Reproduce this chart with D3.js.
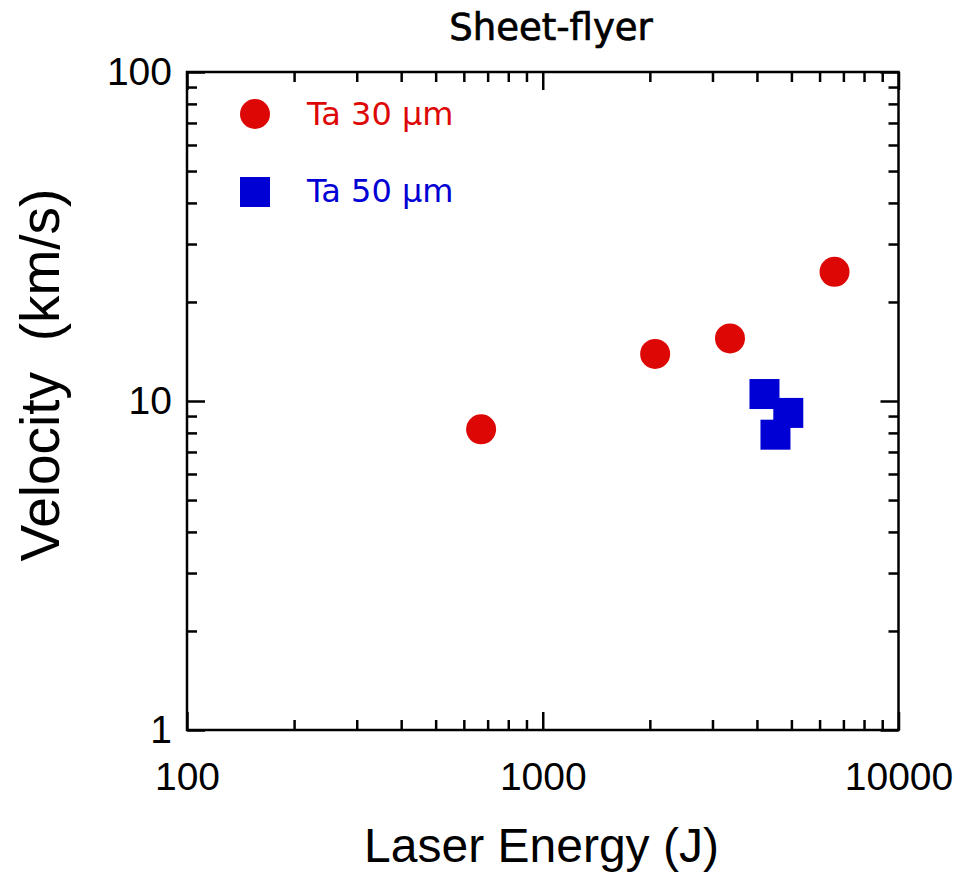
<!DOCTYPE html>
<html>
<head>
<meta charset="utf-8">
<script src="https://cdn.jsdelivr.net/npm/d3@7"></script>
<style>
  html, body { margin: 0; padding: 0; background: #fff; }
  svg { display: block; }
</style>
</head>
<body>
<div id="chart"></div>
<script>
// ---- data ----
const title = "Sheet-flyer";
const xLabel = "Laser Energy (J)";
const yLabel = "Velocity  (km/s)";
const seriesNames = ["Ta 30 \u03bcm", "Ta 50 \u03bcm"];
const energyTa30 = [671, 2070, 3360, 6610];
const velocityTa30 = [8.2, 13.9, 15.5, 24.7];
const energyTa50 = [4200, 4900, 4510];
const velocityTa50 = [10.5, 9.2, 7.9];
const xTicks = [100, 1000, 10000];
const yTicks = [1, 10, 100];

// ---- layout ----
const W = 965, H = 874;
const L = 187, R = 898.5, T = 72, B = 730;
const red = "#dd0806", blue = "#0000d4";

const svg = d3.select("#chart").append("svg").attr("width", W).attr("height", H);

const x = d3.scaleLog().domain([100, 10000]).range([L, R]);
const y = d3.scaleLog().domain([1, 100]).range([B, T]);

const minorX = x.ticks().filter(v => !xTicks.includes(v));
const minorY = y.ticks().filter(v => !yTicks.includes(v));

const axFont = "'Liberation Sans', Arial, sans-serif";

function styleAxis(g) {
  g.select(".domain").remove();
  g.selectAll("line").attr("stroke", "#000").attr("stroke-width", 2.5);
  g.selectAll("text").attr("font-family", axFont).attr("font-size", 39).attr("fill", "#000");
}

// bottom
svg.append("g").attr("transform", `translate(0,${B})`)
  .call(d3.axisBottom(x).tickValues(minorX).tickSize(-10).tickFormat(""))
  .call(styleAxis);
svg.append("g").attr("transform", `translate(0,${B})`)
  .call(d3.axisBottom(x).tickValues(xTicks).tickSize(-18).tickPadding(32).tickFormat(d3.format("d")))
  .call(styleAxis);
// top
svg.append("g").attr("transform", `translate(0,${T})`)
  .call(d3.axisTop(x).tickValues(minorX).tickSize(-10).tickFormat(""))
  .call(styleAxis);
svg.append("g").attr("transform", `translate(0,${T})`)
  .call(d3.axisTop(x).tickValues(xTicks).tickSize(-18).tickFormat(""))
  .call(styleAxis);
// left
svg.append("g").attr("transform", `translate(${L},0)`)
  .call(d3.axisLeft(y).tickValues(minorY).tickSize(-10).tickFormat(""))
  .call(styleAxis);
svg.append("g").attr("transform", `translate(${L},0)`)
  .call(d3.axisLeft(y).tickValues(yTicks).tickSize(-18).tickPadding(15).tickFormat(d3.format("d")))
  .call(styleAxis);
// right
svg.append("g").attr("transform", `translate(${R},0)`)
  .call(d3.axisRight(y).tickValues(minorY).tickSize(-10).tickFormat(""))
  .call(styleAxis);
svg.append("g").attr("transform", `translate(${R},0)`)
  .call(d3.axisRight(y).tickValues(yTicks).tickSize(-18).tickFormat(""))
  .call(styleAxis);

// frame
svg.append("rect").attr("x", L).attr("y", T).attr("width", R - L).attr("height", B - T)
  .attr("fill", "none").attr("stroke", "#000").attr("stroke-width", 2.5);

// data
const ta30 = energyTa30.map((e, i) => ({e, v: velocityTa30[i]}));
const ta50 = energyTa50.map((e, i) => ({e, v: velocityTa50[i]}));

svg.append("g").selectAll("circle").data(ta30).join("circle")
  .attr("cx", d => x(d.e)).attr("cy", d => y(d.v)).attr("r", 15).attr("fill", red);
svg.append("g").selectAll("rect").data(ta50).join("rect")
  .attr("x", d => x(d.e) - 15).attr("y", d => y(d.v) - 15)
  .attr("width", 30).attr("height", 30).attr("fill", blue);

// legend
const legFont = "'DejaVu Sans', sans-serif";
svg.append("circle").attr("cx", 255).attr("cy", 114).attr("r", 15).attr("fill", red);
svg.append("text").attr("x", 307).attr("y", 125).text(seriesNames[0])
  .attr("font-family", legFont).attr("font-size", 32).attr("fill", red);
svg.append("rect").attr("x", 240).attr("y", 177).attr("width", 30).attr("height", 30).attr("fill", blue);
svg.append("text").attr("x", 307).attr("y", 202).text(seriesNames[1])
  .attr("font-family", legFont).attr("font-size", 32).attr("fill", blue);

// title
svg.append("text").attr("x", 551).attr("y", 40).attr("text-anchor", "middle")
  .attr("font-family", legFont).attr("font-size", 37)
  .attr("fill", "#000").attr("stroke", "#000").attr("stroke-width", 0.7).text(title);

// axis titles
svg.append("text").attr("x", 541.5).attr("y", 862).attr("text-anchor", "middle")
  .attr("font-family", axFont).attr("font-size", 48).text(xLabel);
svg.append("text").attr("transform", `translate(59,375) rotate(-90)`).attr("text-anchor", "middle")
  .attr("font-family", axFont).attr("font-size", 55).style("white-space", "pre").text(yLabel);
</script>
</body>
</html>
